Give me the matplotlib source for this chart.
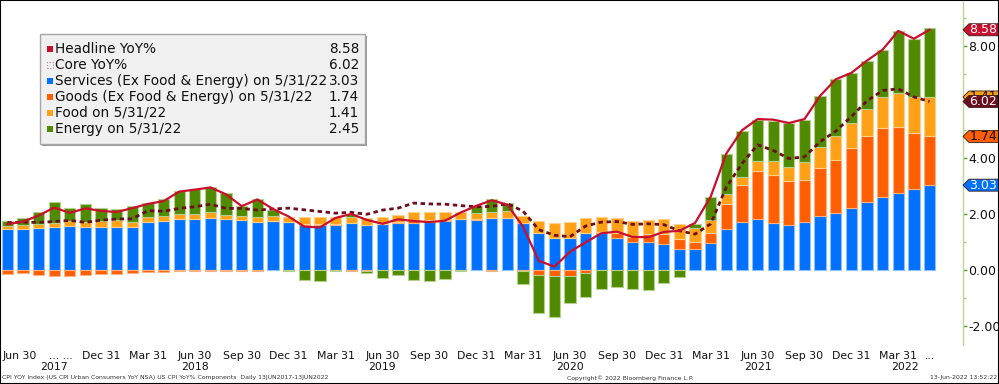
import numpy as np
import pandas as pd
import matplotlib
matplotlib.use("Agg")
import matplotlib.pyplot as plt
from matplotlib.patches import Rectangle, Polygon
from matplotlib.transforms import blended_transform_factory

plt.rcParams["font.family"] = ["DejaVu Sans"]

# monthly, Jun 2017 .. May 2022
months = pd.period_range("2017-06", "2022-05", freq="M")

services = [1.45, 1.45, 1.49, 1.52, 1.58, 1.52, 1.55,
            1.55, 1.55, 1.73, 1.76, 1.81, 1.83, 1.87, 1.81, 1.79, 1.73, 1.75, 1.70,
            1.61, 1.61, 1.61, 1.67, 1.61, 1.64, 1.67, 1.67, 1.70, 1.76, 1.81, 1.79,
            1.85, 1.87, 1.69, 1.31, 1.15, 1.13, 1.33, 1.32, 1.13, 1.01, 1.01, 0.93,
            0.75, 0.74, 0.95, 1.46, 1.71, 1.82, 1.68, 1.61, 1.71, 1.93, 2.05, 2.20,
            2.44, 2.60, 2.76, 2.89, 3.03]
goods = [-0.13, -0.11, -0.18, -0.20, -0.20, -0.18, -0.14,
         -0.13, -0.11, -0.06, -0.08, -0.03, -0.02, -0.02, -0.04, -0.05, -0.02, 0.00, 0.02,
         0.05, 0.05, 0.02, -0.03, -0.02, 0.02, 0.05, 0.10, 0.07, 0.03, 0.02, 0.02,
         -0.02, 0.00, -0.03, -0.18, -0.21, -0.21, -0.10, 0.04, 0.18, 0.16, 0.27, 0.34,
         0.35, 0.27, 0.36, 0.90, 1.33, 1.73, 1.71, 1.57, 1.49, 1.70, 1.88, 2.15,
         2.35, 2.48, 2.36, 1.99, 1.74]
food = [0.13, 0.16, 0.15, 0.17, 0.18, 0.19, 0.20,
        0.24, 0.18, 0.17, 0.18, 0.18, 0.18, 0.20, 0.17, 0.15, 0.15, 0.19, 0.18,
        0.24, 0.22, 0.25, 0.23, 0.24, 0.24, 0.24, 0.31, 0.31, 0.29, 0.25, 0.21,
        0.23, 0.25, 0.25, 0.44, 0.54, 0.60, 0.54, 0.53, 0.54, 0.59, 0.51, 0.55,
        0.53, 0.50, 0.48, 0.34, 0.29, 0.34, 0.50, 0.51, 0.64, 0.77, 0.86, 0.89,
        0.95, 1.11, 1.21, 1.31, 1.41]
energy = [0.17, 0.24, 0.44, 0.73, 0.45, 0.65, 0.48,
          0.39, 0.56, 0.50, 0.58, 0.83, 0.88, 0.88, 0.76, 0.36, 0.64, 0.20, -0.02,
          -0.36, -0.39, -0.04, 0.09, -0.10, -0.30, -0.18, -0.36, -0.38, -0.33, -0.05, 0.27,
          0.44, 0.26, -0.48, -1.37, -1.48, -0.98, -0.88, -0.69, -0.60, -0.69, -0.71, -0.48,
          -0.24, 0.13, 0.81, 1.44, 1.65, 1.47, 1.43, 1.57, 1.52, 1.81, 2.02, 1.78,
          1.74, 1.67, 2.22, 2.06, 2.45]
headline = [1.63, 1.73, 1.94, 2.23, 2.04, 2.20, 2.11,
            2.07, 2.21, 2.36, 2.46, 2.80, 2.87, 2.95, 2.70, 2.28, 2.52, 2.18, 1.91,
            1.55, 1.52, 1.86, 2.00, 1.79, 1.65, 1.81, 1.75, 1.71, 1.76, 2.05, 2.29,
            2.49, 2.33, 1.54, 0.33, 0.12, 0.65, 0.99, 1.31, 1.37, 1.18, 1.17, 1.36,
            1.40, 1.68, 2.62, 4.16, 4.99, 5.39, 5.37, 5.25, 5.39, 6.22, 6.81, 7.04,
            7.48, 7.87, 8.54, 8.26, 8.58]
core = [1.69, 1.71, 1.70, 1.73, 1.77, 1.70, 1.78,
        1.82, 1.83, 2.12, 2.10, 2.20, 2.26, 2.35, 2.20, 2.20, 2.14, 2.18, 2.21,
        2.15, 2.09, 2.03, 2.06, 1.99, 2.14, 2.21, 2.39, 2.36, 2.35, 2.30, 2.26,
        2.27, 2.37, 2.10, 1.44, 1.24, 1.19, 1.57, 1.71, 1.73, 1.63, 1.65, 1.62,
        1.40, 1.28, 1.65, 2.96, 3.80, 4.47, 4.27, 3.98, 4.04, 4.58, 4.96, 5.48,
        6.04, 6.41, 6.47, 6.18, 6.02]

tick_pos = [0.82, 3.4, 6, 9, 12, 15, 18, 21, 24, 27, 30, 33, 36, 39, 42, 45, 48, 51, 54, 57, 59]
tick_labels = ["Jun 30", "... ...", "Dec 31", "Mar 31", "Jun 30", "Sep 30", "Dec 31",
               "Mar 31", "Jun 30", "Sep 30", "Dec 31", "Mar 31", "Jun 30", "Sep 30",
               "Dec 31", "Mar 31", "Jun 30", "Sep 30", "Dec 31", "Mar 31", "..."]
year_pos = [3, 12, 24, 36, 48, 57.4]
year_labels = ["2017", "2018", "2019", "2020", "2021", "2022"]
yticks = [-2, 0, 2, 4, 6, 8]

names = ["Headline YoY%", "Core YoY%", "Services (Ex Food & Energy) on 5/31/22",
         "Goods (Ex Food & Energy) on 5/31/22", "Food on 5/31/22", "Energy on 5/31/22"]

BLUE, ORANGE, AMBER, GREEN = "#0070ff", "#ff5f00", "#ffa116", "#508a00"
EDGES = ["#8cc0ff", "#ffb080", "#ffd08a", "#b4d08a"]
RED, MAROON = "#c8102e", "#6b0e1e"

W, H = 999, 384
fig = plt.figure(figsize=(W / 100, H / 100), dpi=100)
ax = fig.add_axes([1 / W, 1 - 345 / H, 962 / W, 343 / H])

def fx(px):
    return px / W

def fy(py):
    return 1 - py / H

x = np.arange(len(months))
pos_base = np.zeros(len(x))
neg_base = np.zeros(len(x))
for vals, col, ec in zip([services, goods, food, energy], [BLUE, ORANGE, AMBER, GREEN], EDGES):
    v = np.asarray(vals)
    bottom = np.where(v >= 0, pos_base, neg_base)
    ax.bar(x, v, 0.72, bottom=bottom, color=col, edgecolor=ec, lw=0.8, zorder=2)
    pos_base += np.clip(v, 0, None)
    neg_base += np.clip(v, None, 0)

ax.plot(x, core, color=MAROON, lw=2.0, ls=(0, (1.6, 1.3)), zorder=3)
ax.plot(x, headline, color=RED, lw=1.6, zorder=4)

ax.set_xlim(-0.40, 61.14)
ax.set_ylim(-75 / 28, 268 / 28)

for s in ["left", "top", "bottom"]:
    ax.spines[s].set_visible(False)
ax.spines["right"].set_color("#b9d59a")
ax.spines["right"].set_linewidth(1.0)
ax.yaxis.tick_right()
ax.set_yticks(yticks)
ax.set_yticks([-1, 1, 3, 5, 7, 9], minor=True)
# the 6.00 label sits under the last-value tags in the original, so leave it blank
ax.set_yticklabels(["" if t == 6 else f"{t:.2f}" for t in yticks])
ax.tick_params(axis="y", which="major", length=3, width=1, color="#5f9a1e", pad=1,
               labelsize=9, labelcolor="#111")
ax.tick_params(axis="y", which="minor", length=2, width=1, color="#a8c87e")
ax.set_xticks(tick_pos)
ax.set_xticklabels(tick_labels)
ax.tick_params(axis="x", length=0, pad=4, labelsize=7.8, labelcolor="#111")

blend = blended_transform_factory(ax.transData, fig.transFigure)
for p, lab in zip(year_pos, year_labels):
    ax.text(p, fy(367), lab, transform=blend, ha="center", va="center", fontsize=7.8,
            color="#111", clip_on=False)

# legend box
fig.patches.append(Rectangle((fx(41.5), fy(145.5)), fx(325), 110 / H, transform=fig.transFigure,
                             fc="#9a9a9a", ec="none", zorder=5))
fig.patches.append(Rectangle((fx(40), fy(144)), fx(325), 110 / H, transform=fig.transFigure,
                             fc="#f0f0f0", ec="#a6a6a6", lw=1.0, zorder=6))
leg_vals = [headline[-1], core[-1], services[-1], goods[-1], food[-1], energy[-1]]
leg_cols = [RED, None, BLUE, ORANGE, AMBER, GREEN]
for i, (nm, val, col) in enumerate(zip(names, leg_vals, leg_cols)):
    yc = 49 + 16 * i
    if col is None:
        fig.patches.append(Rectangle((fx(47), fy(yc + 3)), fx(6), 6 / H, transform=fig.transFigure,
                                     fill=False, ec="#b88c94", lw=0.8, ls=":", zorder=7))
    else:
        fig.patches.append(Rectangle((fx(46.5), fy(yc + 3.3)), fx(6.6), 6.6 / H,
                                     transform=fig.transFigure, fc=col, ec="none", zorder=7))
    fig.text(fx(55), fy(yc), nm, ha="left", va="center", fontsize=9.8, color="#111", zorder=7)
    fig.text(fx(359), fy(yc), f"{val:.2f}", ha="right", va="center", fontsize=9.8,
             color="#111", zorder=7)

# last-value tags on the right axis
tagtr = blended_transform_factory(fig.transFigure, ax.transData)
hh = 6 / 28

def tag(yv, txt, fc, tc, clip_below=None):
    pts = [(fx(963), yv), (fx(969), yv + hh), (1.0, yv + hh), (1.0, yv - hh), (fx(969), yv - hh)]
    ax.add_patch(Polygon(pts, closed=True, transform=tagtr, fc=fc, ec="#3a1a1a", lw=0.6,
                         clip_on=False, zorder=10))
    t = ax.text(fx(969.5), yv, txt, transform=tagtr, ha="left", va="center", fontsize=9,
                color=tc, clip_on=False, zorder=11)
    if clip_below is not None:
        # only the strip above the next tag stays visible
        clip = Rectangle((fx(963), clip_below), 1 - fx(963), yv + hh - clip_below, transform=tagtr)
        t.set_clip_path(clip)
        t.set_clip_on(True)

food_top = services[-1] + goods[-1] + food[-1]
tag(food_top, f"{food[-1]:.2f}", AMBER, "#111", clip_below=core[-1] + hh)
tag(core[-1], f"{core[-1]:.2f}", MAROON, "white")
tag(services[-1] + goods[-1], f"{goods[-1]:.2f}", ORANGE, "#111")
tag(services[-1], f"{services[-1]:.2f}", BLUE, "white")
tag(headline[-1], f"{headline[-1]:.2f}", RED, "white")

# footer
fig.text(fx(2), fy(378), "CPI YOY Index (US CPI Urban Consumers YoY NSA) US CPI YoY% Components  "
         "Daily 13JUN2017-13JUN2022", ha="left", va="center", fontsize=4.4, color="#333")
fig.text(fx(567), fy(378), "Copyright\u00a9 2022 Bloomberg Finance L.P.", ha="left", va="center",
         fontsize=4.4, color="#333")
fig.text(fx(997), fy(378), "13-Jun-2022 13:52:22", ha="right", va="center", fontsize=4.4,
         color="#333")

fig.patches.append(Rectangle((0, 0), 1, 1, transform=fig.transFigure, fill=False, ec="black",
                             lw=1.5, zorder=20))

fig.savefig("out.png", dpi=100, facecolor="white")
